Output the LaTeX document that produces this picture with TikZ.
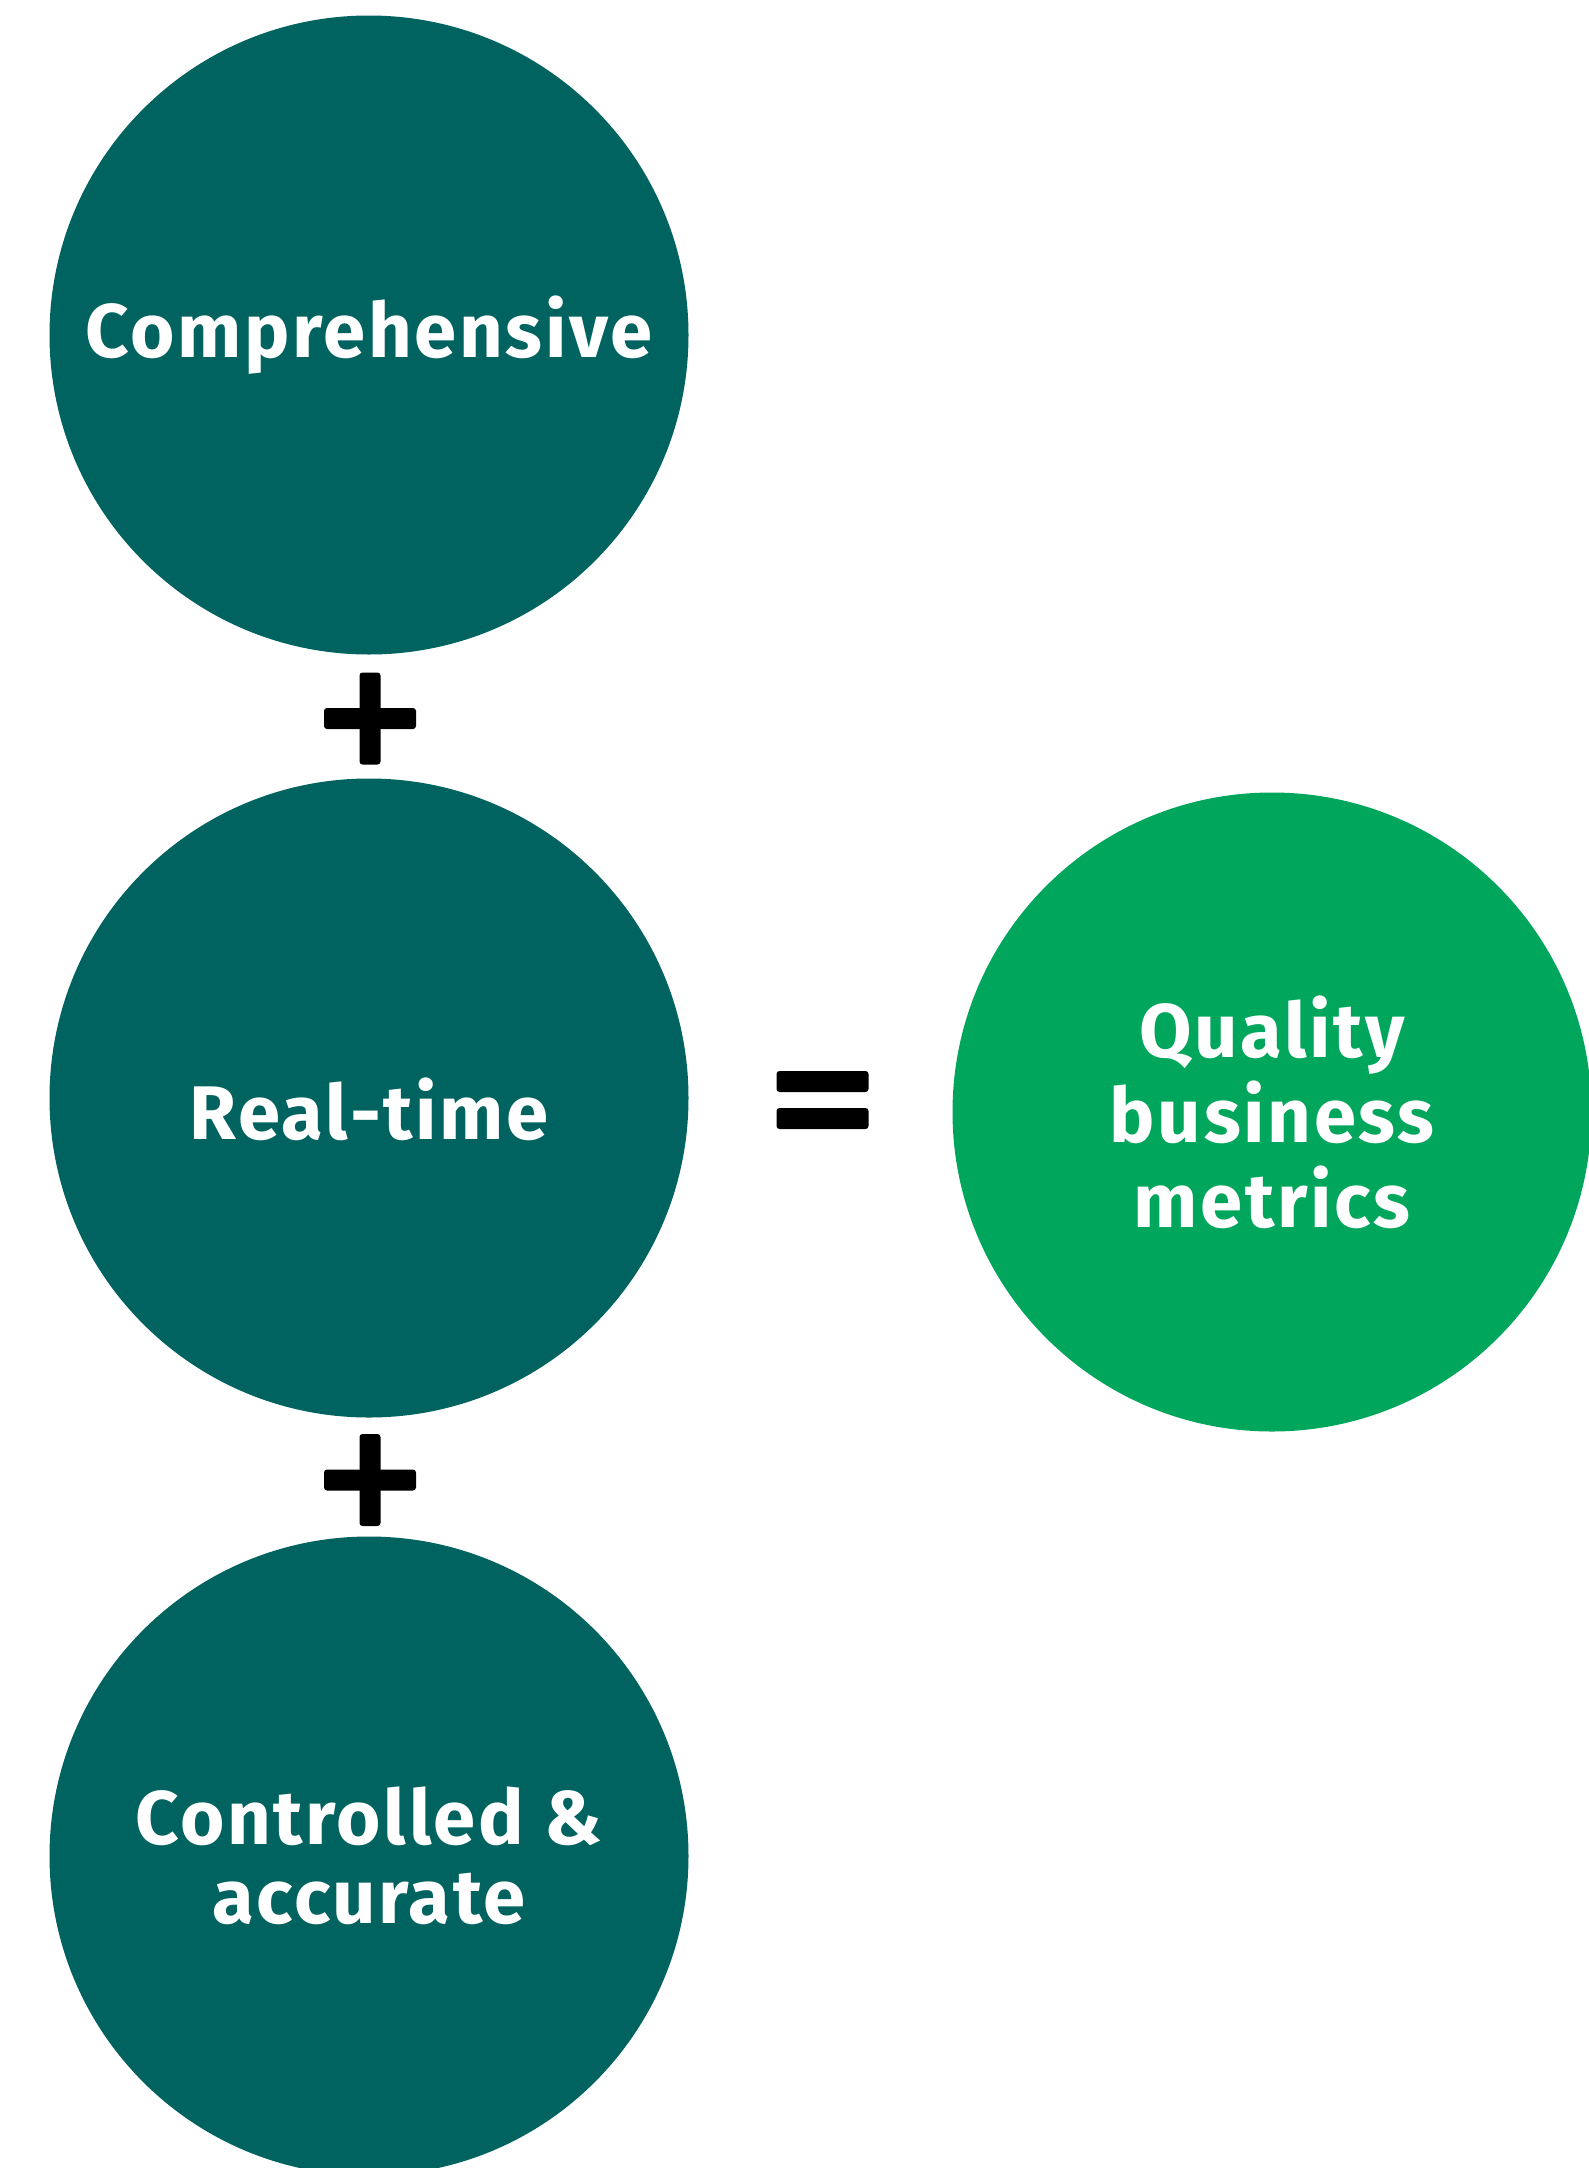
\documentclass[tikz,border=0pt]{standalone}
\usepackage{fontspec}
\setmainfont{Fira Sans}[LetterSpace=3.5]
\definecolor{teal}{HTML}{00635F}
\definecolor{qgreen}{HTML}{00A65B}
\begin{document}
\begin{tikzpicture}[x=1pt,y=-1pt,
  disc/.style={circle, minimum size=639pt, inner sep=0pt, text=white, align=center,
    font=\fontsize{76}{85}\selectfont\bfseries},
  lbl/.style={inner sep=0pt, text=white, align=center, font=\fontsize{76}{85}\selectfont\bfseries},
  barh/.style={fill=black, rounded corners=3pt, minimum width=92pt, minimum height=21pt, inner sep=0pt},
  barv/.style={fill=black, rounded corners=3pt, minimum width=21pt, minimum height=92pt, inner sep=0pt}]
\useasboundingbox (0,0) rectangle (1589,2168);
\clip (0,0) rectangle (1589,2168);
\node[disc, fill=teal] (c1) at (369,335) {Comprehensive};
\node[disc, fill=teal] (c2) at (369,1098) {};
\node[lbl] (t2) at ([yshift=-11pt]c2.center) {Real-time};
\node[disc, fill=teal, font=\fontsize{76}{79}\selectfont\bfseries] (c3) at (369,1856) {Controlled \&\\accurate};
\node[disc, fill=qgreen] (g) at (1272,1112) {Quality\\business\\metrics};
\node[barh] (p1h) at (370,718.5) {};
\node[barv] (p1v) at (370,718.5) {};
\node[barh] (p2h) at (370,1480) {};
\node[barv] (p2v) at (370,1480) {};
\node[barh] (e1) at (822.5,1081.5) {};
\node[barh] (e2) at (822.5,1118.5) {};
\end{tikzpicture}
\end{document}
